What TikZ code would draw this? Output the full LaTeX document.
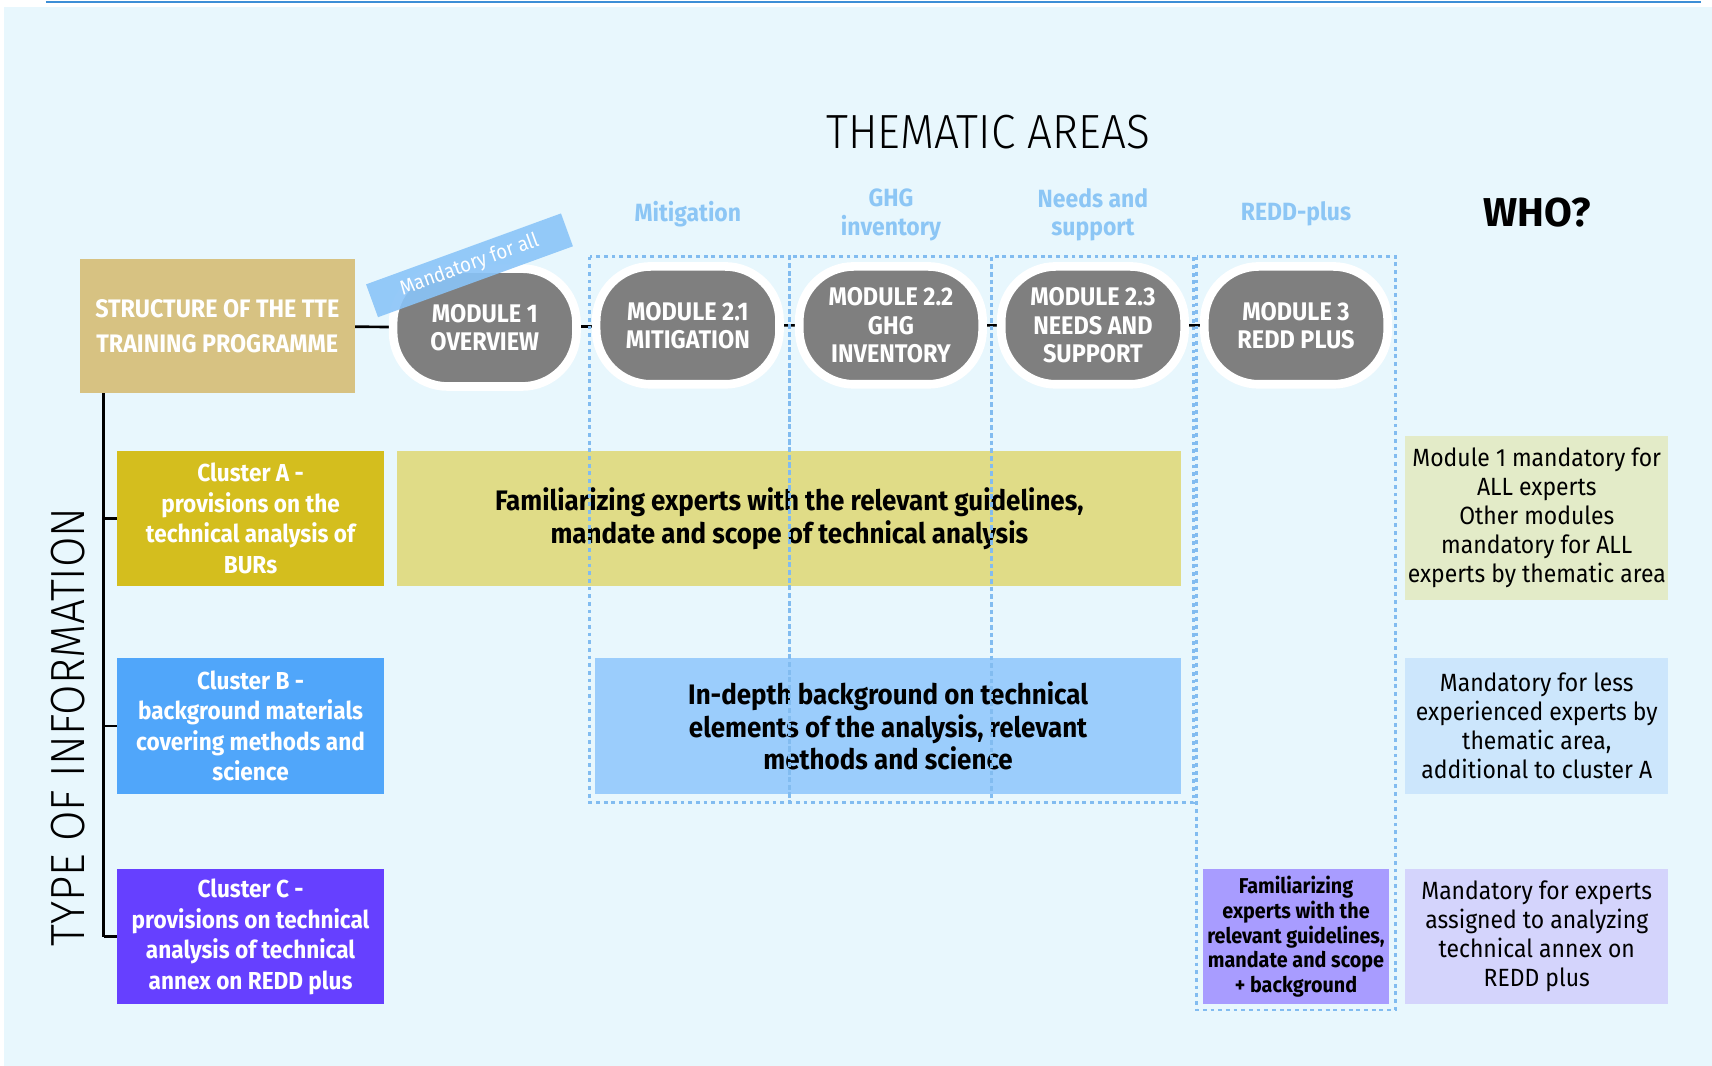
\documentclass[tikz,border=0pt]{standalone}
\usepackage{fontspec}
\usepackage{xcolor}
\usepackage{tikz}
\usetikzlibrary{positioning}
\setmainfont{Fira Sans}
\newfontfamily\condfont[FakeStretch=0.92]{Fira Sans}
\IfFontExistsTF{Fira Sans Light}
  {\newfontfamily\thinfont[FakeStretch=0.92]{Fira Sans Light}}
  {\newfontfamily\thinfont[FakeStretch=0.92]{Fira Sans}}
\pgfdeclarelayer{bg}
\pgfsetlayers{bg,main}
\definecolor{bgcyan}{RGB}{232,247,253}
\definecolor{topline}{RGB}{61,142,214}
\definecolor{structtan}{RGB}{215,194,130}
\definecolor{modgray}{RGB}{127,127,127}
\definecolor{headblue}{RGB}{140,198,245}
\definecolor{banblue}{RGB}{138,196,248}
\definecolor{clusA}{RGB}{212,190,30}
\definecolor{clusB}{RGB}{80,166,250}
\definecolor{clusC}{RGB}{102,64,255}
\definecolor{fillA}{RGB}{224,220,135}
\definecolor{fillB}{RGB}{155,205,252}
\definecolor{fillC}{RGB}{168,156,255}
\definecolor{whoAc}{RGB}{227,235,200}
\definecolor{whoBc}{RGB}{204,230,252}
\definecolor{whoCc}{RGB}{212,212,252}
\definecolor{dotblue}{RGB}{130,188,240}
\tikzset{%
  box/.style = {rectangle,inner sep=0pt,outer sep=0pt,align=center},
  structbox/.style = {box,fill=structtan,text=white,minimum width=5.04cm,
        minimum height=2.46cm,font=\condfont\bfseries\fontsize{13.2}{18.2}\selectfont},
  module/.style = {rectangle,rounded corners=1cm,fill=modgray,draw=white,
        line width=4.5pt,minimum width=3.36cm,minimum height=2.16cm,inner sep=0pt,
        text=white,align=center,font=\condfont\bfseries\fontsize{13.3}{14.8}\selectfont},
  header/.style = {text=headblue,align=center,
        font=\condfont\bfseries\fontsize{13}{14.8}\selectfont},
  bigtitle/.style = {font=\thinfont\fontsize{25}{29}\selectfont},
  banner/.style = {box,fill=banblue,fill opacity=0.9,text opacity=1,text=white,
        minimum width=3.8cm,minimum height=0.64cm,font=\condfont\fontsize{10.6}{13}\selectfont},
  cluster/.style = {box,minimum width=4.9cm,minimum height=2.48cm,text=white,
        font=\condfont\bfseries\fontsize{12.8}{15.9}\selectfont},
  wide/.style = {box,minimum height=2.48cm,
        font=\condfont\bfseries\fontsize{14.7}{17}\selectfont},
  who/.style = {box,minimum width=4.82cm,minimum height=2.48cm,
        font=\condfont\fontsize{13}{15.1}\selectfont},
  dotcol/.style = {draw=dotblue,line width=1.4pt,dash pattern=on 2pt off 2pt},
  link/.style = {draw=black,line width=1.4pt}
}
\begin{document}
\begin{tikzpicture}[x=0.02cm,y=-0.02cm]
  \useasboundingbox (0,0) rectangle (1568,976);
  \begin{pgfonlayer}{bg}
    \fill[bgcyan] (4,6) rectangle (1568,976);
  \end{pgfonlayer}
  \draw[topline,line width=1.2pt] (42,2) -- (1558,2);

  % titles
  \node[bigtitle] (thematic) at (905,121) {THEMATIC AREAS};
  \node[font=\bfseries\fontsize{21}{25}\selectfont] (who) at (1408,195) {WHO?};
  \node[bigtitle,rotate=90] (typeinfo) at (62,666) {TYPE OF INFORMATION};

  % thematic areas
  \node[header] (hmit) at (630,196) {Mitigation};
  \node[header] (hghg) at (816,197) {GHG\\inventory};
  \node[header] (hneeds) at (1001,197) {Needs and\\support};
  \node[header] (hredd) at (1187,196) {REDD-plus};

  % programme row
  \node[structbox] (struct) at (199,298.5) {STRUCTURE OF THE TTE\\TRAINING PROGRAMME};
  \node[module] (m1) at (444,300) {MODULE 1\\OVERVIEW};
  \node[module] (m21) at (630,298) {MODULE 2.1\\MITIGATION};
  \node[module] (m22) at (816,298) {MODULE 2.2\\GHG\\INVENTORY};
  \node[module] (m23) at (1001,298) {MODULE 2.3\\NEEDS AND\\SUPPORT};
  \node[module] (m3) at (1187,298) {MODULE 3\\REDD PLUS};
  \begin{pgfonlayer}{bg}
    \draw[link] (struct) -- (m1) -- (m21) -- (m22) -- (m23) -- (m3);
  \end{pgfonlayer}
  \node[banner,rotate=20] (mandall) at (430,243) {Mandatory for all};

  % clusters
  \node[cluster,fill=clusA] (clA) at (229.5,475)
        {Cluster A -\\provisions on the\\technical analysis of\\BURs};
  \node[cluster,fill=clusB,below=1.32cm of clA] (clB)
        {Cluster B -\\background materials\\covering methods and\\science};
  \node[cluster,fill=clusC,below=1.38cm of clB] (clC)
        {Cluster C -\\provisions on technical\\analysis of technical\\annex on REDD plus};
  \coordinate (spine) at (95,858);
  \draw[link] (struct.south -| spine) -- (spine);
  \draw[link] (clA.west -| spine) -- (clA.west);
  \draw[link] (clB.west -| spine) -- (clB.west);
  \draw[link] (clC.west -| spine) -- (clC.west);

  % contents
  \node[wide,fill=fillA,minimum width=14.36cm,right=0.24cm of clA] (famA)
        {Familiarizing experts with the relevant guidelines,\\mandate and scope of technical analysis};
  \node[wide,fill=fillB,minimum width=10.74cm,anchor=east] (indepth) at (famA.east |- clB)
        {In-depth background on technical\\elements of the analysis, relevant\\methods and science};
  \node[wide,fill=fillC,minimum width=3.4cm,font=\condfont\bfseries\fontsize{11.2}{12.8}\selectfont]
        (famC) at (m3 |- clC)
        {Familiarizing\\experts with the\\relevant guidelines,\\mandate and scope\\+ background};

  % who
  \node[who,fill=whoAc,minimum height=3.02cm] (whoA) at (1407.5,474.5)
        {Module 1 mandatory for\\ALL experts\\Other modules\\mandatory for ALL\\experts by thematic area};
  \node[who,fill=whoBc] (whoB) at (whoA |- clB)
        {Mandatory for less\\experienced experts by\\thematic area,\\additional to cluster A};
  \node[who,fill=whoCc] (whoC) at (whoA |- clC)
        {Mandatory for experts\\assigned to analyzing\\technical annex on\\REDD plus};

  % thematic columns
  \draw[dotcol] (540,235) rectangle (723,735);
  \draw[dotcol] (723,235) rectangle (908,735);
  \draw[dotcol] (908,235) rectangle (1093,735);
  \draw[dotcol] (1096,235) rectangle (1278,925);
\end{tikzpicture}
\end{document}
